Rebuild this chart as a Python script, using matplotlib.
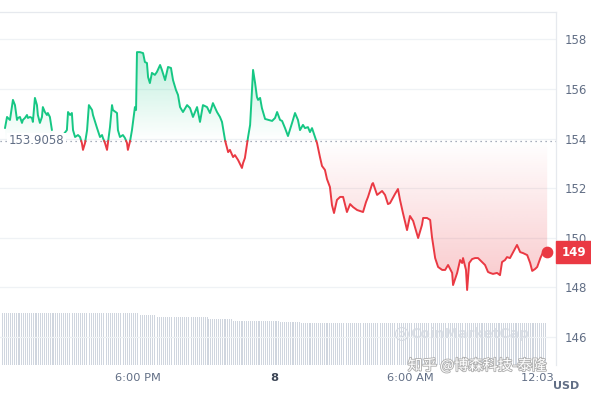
import matplotlib
matplotlib.use("Agg")
import matplotlib.pyplot as plt
import numpy as np
from matplotlib.path import Path
from matplotlib.patches import Rectangle
from matplotlib.transforms import Bbox, TransformedBbox, blended_transform_factory
import matplotlib.patheffects as pe

plt.rcParams['font.family'] = ['DejaVu Sans', 'Noto Sans CJK SC']

#### Data ####

# hours since 12:03 PM (day 7), price in USD
hours = [0.09, 0.18, 0.22, 0.31, 0.44, 0.53, 0.62, 0.66, 0.75, 0.84, 0.88, 0.97,
         1.06, 1.10, 1.19, 1.28, 1.32, 1.41, 1.50, 1.54, 1.63, 1.72, 1.76, 1.85,
         1.94, 1.98, 2.07, 2.16, 2.38,
         2.60, 2.65, 2.82, 2.87, 2.96, 3.04, 3.09, 3.18, 3.31, 3.40, 3.48, 3.53,
         3.62, 3.71, 3.75, 3.79, 3.93, 3.97, 4.15, 4.28, 4.37, 4.41, 4.50, 4.59,
         4.63, 4.72, 4.81, 4.85, 5.03, 5.07, 5.16, 5.29, 5.38, 5.47, 5.51, 5.60,
         5.69, 5.73, 5.82, 5.87, 5.91, 6.04, 6.18, 6.26, 6.35, 6.40, 6.48, 6.57,
         6.70, 6.79, 6.93, 7.01, 7.15, 7.28, 7.41, 7.50, 7.63, 7.72, 7.81, 7.94,
         8.12, 8.25, 8.38, 8.56, 8.69, 8.82, 9.00, 9.13, 9.26, 9.44, 9.57, 9.66,
         9.79, 9.93, 10.01, 10.15, 10.23, 10.37, 10.54, 10.59, 10.67, 10.81, 10.90,
         11.03, 11.12, 11.20, 11.25, 11.34, 11.42, 11.56, 11.87, 12.00, 12.09,
         12.22, 12.31, 12.44, 12.57, 12.75, 12.88, 13.01, 13.10, 13.23, 13.32,
         13.45, 13.54, 13.63, 13.76, 13.85, 13.98, 14.07, 14.20, 14.29, 14.42,
         14.51, 14.60, 14.73, 14.87, 15.00, 15.17, 15.31, 15.44, 15.62, 15.88,
         16.01, 16.10, 16.28, 16.32, 16.50, 16.72, 16.85, 16.98, 17.07, 17.29,
         17.42, 17.51, 17.64, 17.82, 17.95, 18.09, 18.26, 18.31, 18.48, 18.53,
         18.70, 18.84, 18.92, 19.06, 19.19, 19.37, 19.50, 19.63, 19.81, 19.85,
         20.03, 20.16, 20.25, 20.29, 20.42, 20.47, 20.56, 20.69, 20.82, 20.95,
         21.13, 21.26, 21.39, 21.48, 21.61, 21.79, 21.92, 22.01, 22.14, 22.23,
         22.36, 22.50, 22.67, 22.81, 22.94, 23.12, 23.25, 23.34, 23.47, 23.56,
         23.70, 23.82, 24.00]
prices = [154.42, 154.87, 154.83, 154.75, 155.56, 155.35, 154.75, 154.83, 154.87, 154.63, 154.75, 154.83,
          154.95, 154.83, 154.87, 154.83, 154.67, 155.64, 155.35, 154.95, 154.63, 154.87, 155.27, 155.07,
          154.95, 155.03, 154.87, 154.34, np.nan,
          153.62, 154.14, 154.34, 155.07, 154.95, 155.03, 154.34, 154.06, 154.14, 154.06, 153.82, 153.54,
          153.82, 154.34, 154.87, 155.35, 155.15, 154.95, 154.42, 154.06, 154.14, 154.02, 153.82, 153.54,
          153.82, 154.46, 155.35, 155.15, 155.03, 154.34, 154.06, 154.14, 154.02, 153.82, 153.54, 153.86,
          154.34, 154.63, 155.27, 155.15, 157.49, 157.49, 157.45, 157.09, 157.05, 156.48, 156.24, 156.65,
          156.57, 156.69, 156.97, 156.77, 156.36, 156.89, 156.85, 156.36, 155.96, 155.76, 155.27, 155.07,
          155.35, 155.23, 154.87, 155.27, 154.67, 155.35, 155.27, 155.03, 155.43, 155.07, 154.87, 154.67,
          153.94, 153.45, 153.54, 153.25, 153.33, 153.13, 152.81, 153.01, 153.21, 154.06, 154.55,
          156.77, 156.24, 155.68, 155.56, 155.64, 155.23, 154.79, 154.71, 154.83, 155.07,
          154.75, 154.71, 154.42, 154.10, 154.63, 155.03, 154.75, 154.34, 154.55, 154.42,
          154.46, 154.26, 154.42, 154.06, 153.82, 153.25, 152.89, 152.73, 152.36, 152.04,
          151.31, 150.99, 151.52, 151.64, 151.64, 151.03, 151.35, 151.23, 151.11, 151.03,
          151.43, 151.64, 152.16, 152.20, 151.72, 151.88, 151.72, 151.35, 151.39, 151.76,
          151.96, 151.52, 150.99, 150.30, 150.87, 150.67, 150.14, 149.98, 150.51, 150.79,
          150.79, 150.71, 150.02, 149.17, 148.81, 148.69, 148.69, 148.89, 148.57, 148.08,
          148.57, 149.09, 148.97, 149.17, 148.69, 147.88, 148.97, 149.13, 149.17, 149.17,
          149.01, 148.89, 148.61, 148.57, 148.53, 148.57, 148.48, 149.01, 149.09, 149.21,
          149.17, 149.41, 149.70, 149.41, 149.37, 149.29, 148.97, 148.65, 148.73, 148.81,
          149.17, 149.41, 149.41]
open_price = 153.9058
last_label = "149"

# volume (rolling 24h, billions) - stepped levels and the hour each level lasts until
vol_levels = [5.2, 5.0, 4.8, 4.6, 4.4, 4.3, 4.2]
vol_until = [5.95, 6.8, 9.0, 10.15, 12.2, 13.1, 24.0]

tick_hours = [5.95, 11.95, 17.95, 24.0]
tick_labels = ["6:00 PM", "8", "6:00 AM", "12:03 PM"]
price_ticks = [146, 148, 150, 152, 154, 156, 158]

GREEN = "#16c784"
RED = "#ea3943"
GRAY = "#616e85"

#### Utilities ####

def split_at(t, p, base):
    tt, pp = [t[0]], [p[0]]
    for i in range(1, len(t)):
        a, b = p[i - 1], p[i]
        if not (np.isnan(a) or np.isnan(b)) and (a - base) * (b - base) < 0:
            tt.append(t[i - 1] + (base - a) / (b - a) * (t[i] - t[i - 1]))
            pp.append(base)
        tt.append(t[i])
        pp.append(p[i])
    return np.array(tt), np.array(pp)


def gradient_fill(ax, t, p, base, color, top_is_strong):
    where = (p >= base) if top_is_strong else (p <= base)
    poly = ax.fill_between(t, p, base, where=where, facecolor="none", edgecolor="none")
    paths = poly.get_paths()
    if not paths:
        return
    clip = Path.make_compound_path(*paths)
    rgb = matplotlib.colors.to_rgb(color)
    img = np.zeros((256, 1, 4))
    img[..., :3] = rgb
    alpha = np.linspace(0, 0.28, 256)
    if top_is_strong:
        img[:, 0, 3] = alpha
        ext = [t[0], t[-1], base, np.nanmax(p)]
    else:
        img[:, 0, 3] = alpha[::-1]
        ext = [t[0], t[-1], np.nanmin(p), base]
    im = ax.imshow(img, extent=ext, origin="lower", aspect="auto", zorder=1,
                   interpolation="bilinear")
    im.set_clip_path(clip, transform=ax.transData)

#### Figure ####

t = np.array(hours)
p = np.array(prices)

fig = plt.figure(figsize=(5.91, 3.94), dpi=100)
pos = [0.0, 0.0736, 0.9408, 0.8959]

# volume bars underneath
axv = fig.add_axes(pos)
bar_t = np.arange(0, 24, 1 / 12)
bar_v = np.array([vol_levels[np.searchsorted(vol_until, h)] for h in bar_t])
axv.bar(bar_t, bar_v, width=1 / 12 * 0.5, color="#d0d6df", linewidth=0)
axv.set_xlim(-0.13, 24.39)
axv.set_ylim(0, max(vol_levels) / 0.147)
axv.axis("off")

ax = fig.add_axes(pos)
ax.patch.set_alpha(0)
ax.set_xlim(-0.13, 24.39)
ax.set_ylim(144.85, 159.11)

tt, pp = split_at(t, p, open_price)
gradient_fill(ax, tt, pp, open_price, GREEN, True)
gradient_fill(ax, tt, pp, open_price, RED, False)

up = np.where(pp >= open_price, pp, np.nan)
dn = np.where(pp <= open_price, pp, np.nan)
ax.plot(tt, up, color=GREEN, lw=1.4, zorder=3, solid_capstyle="round")
ax.plot(tt, dn, color=RED, lw=1.4, zorder=3, solid_capstyle="round")
ax.scatter([t[-1]], [p[-1]], s=55, color=RED, zorder=4)

ax.axhline(open_price, color="#8a94a6", lw=0.9, ls=(0, (1, 3)), zorder=2)
ax.text(0.016, open_price, f"{open_price:.4f}", transform=blended_transform_factory(ax.transAxes, ax.transData),
        ha="left", va="center", fontsize=8.5, color=GRAY, zorder=5,
        bbox=dict(boxstyle="square,pad=0.15", fc="white", ec="none"))

ax.set_xlim(-0.13, 24.39)
ax.set_ylim(144.85, 159.11)

# axes styling
ax.yaxis.tick_right()
ax.set_yticks(price_ticks)
ax.set_yticklabels([str(v) for v in price_ticks])
ax.tick_params(axis="y", length=0, pad=6, labelsize=8.5, labelcolor=GRAY)
ax.set_xticks(tick_hours)
ax.set_xticklabels(tick_labels)
ax.tick_params(axis="x", length=0, pad=5.5, labelsize=8.2, labelcolor=GRAY)
for lbl in ax.get_xticklabels():
    if lbl.get_text() == "8":
        lbl.set_fontweight("bold")
        lbl.set_color("#3d4656")
ax.get_xticklabels()[-1].set_clip_box(TransformedBbox(Bbox([[0, 0], [0.942, 1]]), fig.transFigure))
ax.get_xticklabels()[-1].set_clip_on(True)

ax.grid(axis="y", color="#eff2f5", lw=0.9)
ax.set_axisbelow(True)
for side in ["left", "bottom"]:
    ax.spines[side].set_visible(False)
for side in ["top", "right"]:
    ax.spines[side].set_color("#e6e9ee")
    ax.spines[side].set_linewidth(0.9)

# last price tag
bt = blended_transform_factory(ax.transAxes, ax.transData)
ax.add_patch(Rectangle((1.0, p[-1] - 0.44), 0.07, 0.88, transform=bt, color=RED,
                       clip_on=False, zorder=6))
ax.text(1.032, p[-1], last_label, transform=bt, ha="center", va="center",
        color="white", fontsize=8.5, fontweight="bold", zorder=7, clip_on=False)

fig.text(0.958, 0.008, "USD", ha="center", va="bottom", fontsize=8,
         fontweight="bold", color=GRAY)

# watermarks
fig.text(0.665, 0.152, "\u25CE", fontsize=13, color="#d5dae2", ha="left", va="center")
fig.text(0.695, 0.152, "CoinMarketCap", fontsize=10, fontweight="bold",
         color="#d5dae2", alpha=0.8, ha="left", va="center")
fig.text(0.69, 0.072, "知乎 @博森科技-泰隆", fontsize=10.5, ha="left", va="center",
         family=["Noto Sans CJK SC", "DejaVu Sans"], color="white",
         path_effects=[pe.withStroke(linewidth=1.3, foreground="#b0b0b0")])

fig.savefig("out.png", dpi=100)
